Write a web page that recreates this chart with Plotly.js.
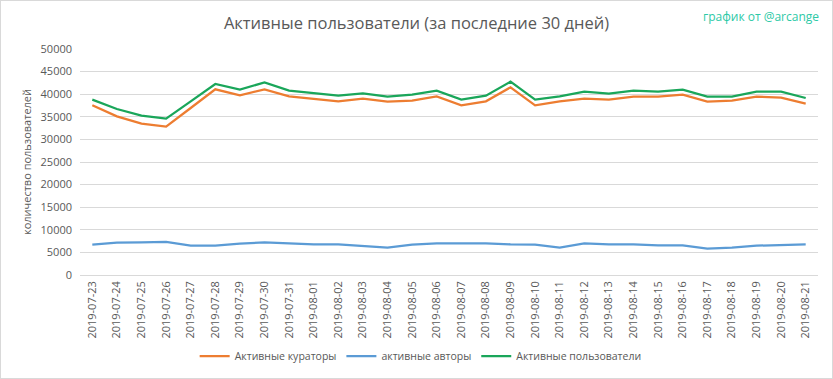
<!DOCTYPE html>
<html>
<head>
<meta charset="utf-8">
<script src="https://cdn.plot.ly/plotly-3.0.1.min.js"></script>
<style>
html,body{margin:0;padding:0;background:#fff;}
#wrap{position:absolute;left:0;top:0;width:831px;height:377px;border:1px solid #d9d9d9;}
#chart{width:831px;height:377px;}
</style>
</head>
<body>
<div id="wrap"><div id="chart"></div></div>
<script>
const dates = ["2019-07-23","2019-07-24","2019-07-25","2019-07-26","2019-07-27","2019-07-28","2019-07-29","2019-07-30","2019-07-31","2019-08-01","2019-08-02","2019-08-03","2019-08-04","2019-08-05","2019-08-06","2019-08-07","2019-08-08","2019-08-09","2019-08-10","2019-08-11","2019-08-12","2019-08-13","2019-08-14","2019-08-15","2019-08-16","2019-08-17","2019-08-18","2019-08-19","2019-08-20","2019-08-21"];
const curators = [37540,35100,33480,32820,36950,41080,39750,41080,39530,38950,38420,39010,38350,38570,39530,37540,38420,41520,37540,38420,39010,38790,39450,39450,39900,38350,38570,39450,39230,37910];
const authors = [6710,7150,7230,7300,6490,6490,6930,7230,7000,6800,6780,6340,6050,6710,7000,7000,7000,6780,6710,6050,7000,6780,6780,6560,6560,5830,6050,6490,6710,6780];
const users = [38790,36726,35250,34590,38400,42260,41000,42630,40780,40260,39680,40190,39450,39900,40780,38790,39680,42770,38790,39530,40560,40120,40780,40560,41000,39450,39450,40560,40560,39160];
const yTicks = [0,5000,10000,15000,20000,25000,30000,35000,40000,45000,50000];
const seriesNames = ["Активные кураторы","активные авторы","Активные пользователи"];

const fontFam = "Open Sans, Liberation Sans, sans-serif";
const grey = "#595959";
const traces = [
  {x: dates, y: curators, name: seriesNames[0], type: "scatter", mode: "lines", line: {color: "#ED7D31", width: 2.25}},
  {x: dates, y: authors, name: seriesNames[1], type: "scatter", mode: "lines", line: {color: "#5B9BD5", width: 2.25}},
  {x: dates, y: users, name: seriesNames[2], type: "scatter", mode: "lines", line: {color: "#1AA65A", width: 2.25}}
];
const layout = {
  width: 831, height: 377,
  margin: {l: 79, r: 14, t: 48, b: 103},
  paper_bgcolor: "#fff", plot_bgcolor: "#fff",
  font: {family: fontFam, color: grey, size: 11},
  title: {text: "Активные пользователи (за последние 30 дней)", x: 0.5, xanchor: "center", xref: "container", y: 0.942, yref: "container", yanchor: "middle", font: {family: fontFam, size: 16.5, color: grey}},
  xaxis: {type: "category", range: [-0.5, dates.length - 0.5], tickangle: -90, showgrid: false, showline: false, zeroline: false, ticks: "", ticklabelstandoff: 3, tickfont: {size: 11, color: grey, family: fontFam}, fixedrange: true},
  yaxis: {range: [0, 50000], tickvals: yTicks, ticktext: yTicks.map(String), showgrid: true, gridcolor: "#d9d9d9", gridwidth: 1, zeroline: true, zerolinecolor: "#d9d9d9", showline: false, ticks: "", ticklabelstandoff: 7, tickfont: {size: 11, color: grey, family: fontFam}, title: {text: "количество пользователей", font: {size: 11, color: grey, family: fontFam}, standoff: 6}},
  legend: {orientation: "h", x: 0.505, xanchor: "center", xref: "container", y: 0.058, yref: "container", yanchor: "middle", font: {size: 10.5, color: grey, family: fontFam}},
  showlegend: true,
  annotations: [{text: "график от @arcange", xref: "paper", yref: "paper", x: 1.004, xanchor: "right", y: 1.146, yanchor: "middle", showarrow: false, font: {size: 12, color: "#2CC9A6", family: fontFam}}]
};
Plotly.newPlot("chart", traces, layout, {displayModeBar: false, staticPlot: true});
</script>
</body>
</html>
